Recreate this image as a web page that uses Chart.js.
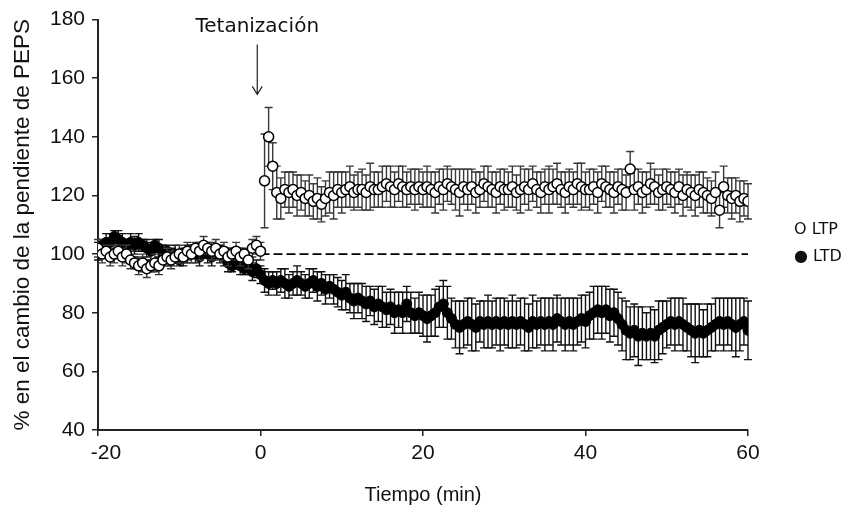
<!DOCTYPE html>
<html>
<head>
<meta charset="utf-8">
<script src="https://cdn.jsdelivr.net/npm/chart.js@4.4.1/dist/chart.umd.min.js"></script>
<style>
  html, body { margin: 0; padding: 0; background: #ffffff; }
  #wrap { width: 848px; height: 512px; }
</style>
</head>
<body>
<div id="wrap"><canvas id="c" width="848" height="512"></canvas></div>
<script>
// ---- Data (time in minutes, 0.5-min steps from -20 to 60) ----
const times = [];
for (let i = 0; i <= 160; i++) times.push(-20 + i * 0.5);

const ltpValues = [
  // -20 .. -10.5
  102, 100, 101, 99, 100, 101, 99, 100, 98, 97, 96, 97, 95, 96, 97, 96, 98, 99, 98, 99,
  // -10 .. -0.5
  100, 99, 101, 100, 102, 101, 103, 102, 101, 102, 100, 101, 99, 100, 101, 99, 100, 98, 102, 103,
  // 0
  101,
  // 0.5 .. 10
  125, 140, 130, 121, 119, 122, 121, 122, 120, 121, 119, 120, 118, 119, 117, 119, 121, 120, 122, 121,
  // 10.5 .. 20
  122, 123, 121, 122, 122, 121, 123, 122, 122, 123, 124, 123, 122, 124, 123, 122, 123, 122, 123, 122,
  // 20.5 .. 30
  123, 122, 121, 123, 122, 124, 123, 122, 121, 123, 122, 123, 121, 122, 124, 123, 122, 121, 123, 122,
  // 30.5 .. 40
  122, 123, 121, 122, 123, 122, 124, 122, 121, 123, 122, 123, 124, 122, 121, 123, 122, 124, 123, 122,
  // 40.5 .. 50
  122, 123, 121, 124, 123, 122, 121, 123, 122, 121, 129, 122, 123, 121, 122, 124, 123, 121, 122, 123,
  // 50.5 .. 60
  122, 121, 123, 120, 122, 121, 120, 122, 121, 120, 119, 121, 115, 123, 120, 119, 120, 118, 119, 118
];
const ltpErrors = [
  3, 3, 2, 3, 3, 2, 3, 3, 3, 2, 3, 3, 3, 2, 3, 3, 2, 3, 3, 2,
  3, 2, 3, 3, 2, 3, 3, 2, 3, 3, 2, 3, 3, 2, 3, 3, 2, 3, 3, 3,
  3,
  16, 10, 8, 9, 7, 6, 7, 6, 7, 6, 6, 7, 6, 7, 6, 6, 7, 8, 6, 7,
  6, 7, 6, 6, 7, 6, 8, 6, 6, 7, 6, 7, 6, 6, 7, 6, 6, 7, 6, 6,
  7, 6, 7, 6, 7, 6, 6, 7, 8, 6, 7, 6, 7, 6, 6, 7, 6, 7, 6, 7,
  6, 7, 6, 8, 6, 7, 6, 6, 7, 6, 8, 6, 7, 6, 7, 6, 6, 7, 8, 6,
  7, 6, 7, 6, 7, 6, 7, 6, 7, 6, 6, 7, 6, 7, 6, 7, 6, 6, 7, 6,
  6, 7, 6, 7, 6, 6, 7, 6, 7, 6, 6, 7, 6, 7, 6, 7, 6, 7, 6, 6
];

const ltdValues = [
  // -20 .. -10.5
  101, 103, 104, 104, 106, 105, 104, 103, 104, 103, 104, 103, 102, 101, 103, 102, 100, 101, 99, 100,
  // -10 .. -0.5
  98, 99, 100, 101, 100, 99, 101, 100, 99, 101, 100, 99, 97, 96, 98, 96, 95, 96, 94, 95,
  // 0
  93,
  // 0.5 .. 10
  91, 90, 91, 90, 91, 90, 89, 90, 91, 90, 89, 90, 91, 89, 90, 88, 89, 88, 87, 86,
  // 10.5 .. 20
  87, 85, 84, 85, 84, 83, 84, 82, 83, 82, 81, 82, 80, 81, 80, 83, 80, 79, 80, 79,
  // 20.5 .. 30
  78, 79, 80, 82, 83, 80, 78, 76, 75, 76, 77, 76, 75, 77, 76, 77, 76, 77, 76, 77,
  // 30.5 .. 40
  76, 77, 76, 77, 76, 75, 77, 76, 77, 76, 77, 76, 78, 77, 76, 77, 76, 77, 78, 77,
  // 40.5 .. 50
  79, 80, 81, 80, 81, 79, 80, 78, 76, 74, 73, 74, 72, 73, 72, 73, 72, 74, 75, 76,
  // 50.5 .. 60
  77, 76, 77, 76, 75, 74, 73, 74, 73, 74, 75, 76, 77, 76, 77, 76, 75, 76, 77, 74
];
const ltdErrors = [
  3, 2, 3, 3, 2, 3, 3, 2, 3, 3, 3, 2, 3, 3, 2, 3, 3, 2, 3, 3,
  2, 3, 3, 2, 3, 3, 2, 3, 3, 2, 3, 3, 3, 2, 3, 3, 2, 3, 3, 3,
  3,
  4, 4, 3, 4, 4, 5, 4, 4, 5, 4, 4, 5, 4, 5, 4, 5, 4, 5, 5, 5,
  6, 5, 6, 5, 6, 6, 5, 6, 6, 7, 6, 6, 7, 6, 7, 6, 7, 6, 7, 7,
  8, 7, 8, 7, 8, 9, 7, 8, 9, 8, 8, 9, 8, 7, 8, 9, 8, 8, 9, 8,
  8, 9, 8, 8, 9, 8, 9, 8, 8, 9, 8, 9, 8, 8, 9, 8, 9, 8, 8, 9,
  8, 9, 8, 9, 8, 9, 8, 9, 9, 10, 9, 9, 10, 9, 8, 9, 9, 10, 9, 8,
  8, 9, 8, 9, 8, 9, 10, 9, 8, 9, 8, 9, 8, 9, 8, 9, 10, 9, 8, 10
];

const refLineX = [0, 60];
const refLineY = [100, 100];

const xTickValues = [-20, 0, 20, 40, 60];
const yTickValues = [40, 60, 80, 100, 120, 140, 160, 180];

const seriesNames = ['LTP', 'LTD'];
const xTitle = 'Tiempo (min)';
const yTitle = '% en el cambio de la pendiente de PEPS';
const annotationText = 'Tetanización';

// ---- Build datasets ----
function toPoints(xs, ys) { return xs.map((x, i) => ({ x: x, y: ys[i] })); }

const errorSets = [ltpErrors, ltdErrors];

const errorBarPlugin = {
  id: 'errorBars',
  beforeDatasetDraw(chart, args) {
    const idx = args.index;
    if (idx > 1) return;
    const errs = errorSets[idx];
    const meta = args.meta;
    const xs = chart.scales.x, ys = chart.scales.y;
    const ctx = chart.ctx;
    ctx.save();
    ctx.strokeStyle = idx === 0 ? '#3a3a3a' : '#111111';
    ctx.lineWidth = 1.4;
    meta.data.forEach((pt, i) => {
      const d = chart.data.datasets[idx].data[i];
      const px = xs.getPixelForValue(d.x);
      const top = ys.getPixelForValue(d.y + errs[i]);
      const bot = ys.getPixelForValue(d.y - errs[i]);
      ctx.beginPath();
      ctx.moveTo(px, top); ctx.lineTo(px, bot);
      ctx.moveTo(px - 4, top); ctx.lineTo(px + 4, top);
      ctx.moveTo(px - 4, bot); ctx.lineTo(px + 4, bot);
      ctx.stroke();
    });
    ctx.restore();
  }
};

const annotationPlugin = {
  id: 'annot',
  afterDraw(chart) {
    const ctx = chart.ctx;
    const xs = chart.scales.x, ys = chart.scales.y;
    const ax = xs.getPixelForValue(-0.4);
    const yTop = ys.getPixelForValue(171.5);
    const yBot = ys.getPixelForValue(154.5);
    ctx.save();
    ctx.strokeStyle = '#222';
    ctx.lineWidth = 1.2;
    ctx.beginPath();
    ctx.moveTo(ax, yTop); ctx.lineTo(ax, yBot);
    ctx.moveTo(ax - 5, yBot - 8); ctx.lineTo(ax, yBot); ctx.lineTo(ax + 5, yBot - 8);
    ctx.stroke();
    ctx.fillStyle = '#111';
    ctx.font = '20px "DejaVu Sans", sans-serif';
    ctx.textAlign = 'center';
    ctx.textBaseline = 'alphabetic';
    ctx.fillText(annotationText, ax, ys.getPixelForValue(175.6));

    // legend
    ctx.textAlign = 'left';
    ctx.textBaseline = 'middle';
    ctx.font = '16px "DejaVu Sans", sans-serif';
    ctx.fillText('O ' + seriesNames[0], 794, 230);
    ctx.fillText('\u25CF ' + seriesNames[1], 794, 257);
    ctx.restore();
  }
};

const axisColor = '#222';
const tickFont = { family: '"Liberation Sans", Arial, sans-serif', size: 21 };

new Chart(document.getElementById('c'), {
  type: 'scatter',
  data: {
    datasets: [
      {
        label: seriesNames[0],
        data: toPoints(times, ltpValues),
        pointStyle: 'circle',
        pointRadius: 5,
        pointBackgroundColor: '#ffffff',
        pointBorderColor: '#000000',
        pointBorderWidth: 1.5,
        showLine: false
      },
      {
        label: seriesNames[1],
        data: toPoints(times, ltdValues),
        pointStyle: 'circle',
        pointRadius: 5,
        pointBackgroundColor: '#000000',
        pointBorderColor: '#000000',
        pointBorderWidth: 1,
        showLine: false
      },
      {
        label: 'ref',
        data: toPoints(refLineX, refLineY),
        showLine: true,
        pointRadius: 0,
        borderColor: '#000',
        borderWidth: 1.6,
        borderDash: [9, 4]
      }
    ]
  },
  options: {
    responsive: false,
    animation: false,
    events: [],
    layout: { padding: { left: 0, right: 100, top: 19, bottom: 0 } },
    plugins: { legend: { display: false }, tooltip: { enabled: false } },
    scales: {
      x: {
        type: 'linear',
        min: -20, max: 60,
        afterFit(scale) { scale.height = 82; },
        afterBuildTicks(scale) { scale.ticks = xTickValues.map(v => ({ value: v })); },
        ticks: {
          font: tickFont, color: '#111', padding: 5, maxRotation: 0, autoSkip: false,
          callback: (v) => (v < 0 ? '\u00A0\u00A0\u2009' + v : String(v))
        },
        grid: { display: true, drawOnChartArea: false, drawTicks: true, tickLength: 6, color: axisColor, lineWidth: 1.5 },
        border: { display: true, color: axisColor, width: 2 },
        title: { display: true, text: xTitle, font: { family: '"Liberation Sans", Arial, sans-serif', size: 20 }, color: '#111', padding: { top: 0, bottom: 5 } }
      },
      y: {
        type: 'linear',
        min: 40, max: 180,
        afterFit(scale) { scale.width = 98; },
        afterBuildTicks(scale) { scale.ticks = yTickValues.map(v => ({ value: v })); },
        ticks: { font: tickFont, color: '#111', padding: 7, autoSkip: false },
        grid: { display: true, drawOnChartArea: false, drawTicks: true, tickLength: 6, color: axisColor, lineWidth: 1.5 },
        border: { display: true, color: axisColor, width: 2 },
        title: { display: true, text: yTitle, font: { family: '"Liberation Sans", Arial, sans-serif', size: 22.5 }, color: '#111', padding: { top: 9, bottom: 0 } }
      }
    }
  },
  plugins: [errorBarPlugin, annotationPlugin]
});
</script>
</body>
</html>
